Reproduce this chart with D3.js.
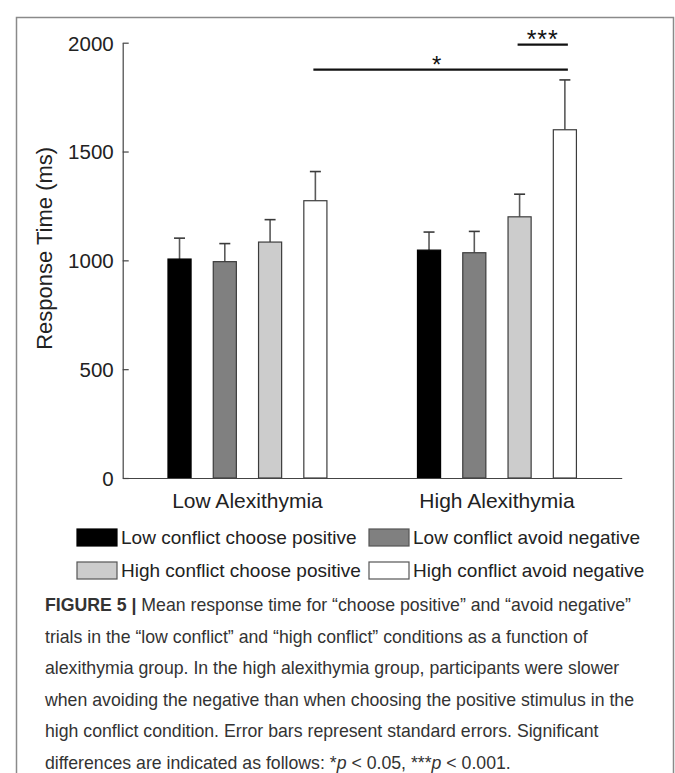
<!DOCTYPE html>
<html>
<head>
<meta charset="utf-8">
<script src="https://cdn.jsdelivr.net/npm/d3@7"></script>
<style>
  body { margin: 0; background: #fff; }
  svg { display: block; }
</style>
</head>
<body>
<div id="chart"></div>
<script>
// data
var groups = ["Low Alexithymia", "High Alexithymia"];
var series = ["Low conflict choose positive", "Low conflict avoid negative",
              "High conflict choose positive", "High conflict avoid negative"];
var lowMeans = [1006, 994, 1084, 1274];
var lowSE = [96, 83, 103, 134];
var highMeans = [1047, 1035, 1200, 1600];
var highSE = [83, 98, 104, 229];
var yTicks = [0, 500, 1000, 1500, 2000];
var sigLabels = ["*", "***"];
var sigLevels = [1876, 1991];

var colors = ["#000000", "#808080", "#cccccc", "#ffffff"];

var width = 675, height = 773;
var svg = d3.select("#chart").append("svg")
    .attr("width", width)
    .attr("height", height);

// frame around the figure (open at the bottom)
svg.append("path")
    .attr("d", "M16.5,773 V17.5 H673.5 V773")
    .attr("fill", "none")
    .attr("stroke", "#8a8a8a")
    .attr("stroke-width", 1.5);

var plotLeft = 122.7, plotRight = 621.7, plotTop = 42.7, plotBottom = 478;

var yScale = d3.scaleLinear().domain([0, 2000]).range([plotBottom, plotTop]);
var x0 = d3.scaleBand().domain(groups).range([plotLeft, plotRight]).padding(0);
var x1 = d3.scaleBand().domain(series).range([0, x0.bandwidth()])
    .paddingInner(0.49).paddingOuter(1.0);

var rows = [];
groups.forEach(function (g, gi) {
    var m = gi == 0 ? lowMeans : highMeans;
    var s = gi == 0 ? lowSE : highSE;
    series.forEach(function (sr, si) {
        rows.push({ group: g, series: sr, si: si, mean: m[si], se: s[si] });
    });
});

var chart = svg.append("g");

// error bars (drawn first, bars cover the lower part)
var err = chart.selectAll(".err").data(rows).enter().append("g");
err.append("line")
    .attr("x1", d => x0(d.group) + x1(d.series) + x1.bandwidth() / 2)
    .attr("x2", d => x0(d.group) + x1(d.series) + x1.bandwidth() / 2)
    .attr("y1", d => yScale(d.mean))
    .attr("y2", d => yScale(d.mean + d.se))
    .attr("stroke", "#5a5a5a")
    .attr("stroke-width", 1.6);
err.append("line")
    .attr("x1", d => x0(d.group) + x1(d.series) + x1.bandwidth() / 2 - 5.5)
    .attr("x2", d => x0(d.group) + x1(d.series) + x1.bandwidth() / 2 + 5.5)
    .attr("y1", d => yScale(d.mean + d.se))
    .attr("y2", d => yScale(d.mean + d.se))
    .attr("stroke", "#3a3a3a")
    .attr("stroke-width", 1.6);

chart.selectAll(".bar").data(rows).enter().append("rect")
    .attr("x", d => x0(d.group) + x1(d.series))
    .attr("y", d => yScale(d.mean))
    .attr("width", x1.bandwidth())
    .attr("height", d => plotBottom - yScale(d.mean))
    .attr("fill", d => colors[d.si])
    .attr("stroke", d => d.si == 0 ? "#000" : "#3c3c3c")
    .attr("stroke-width", 1.2);

// y axis, ticks pointing inward like matlab
var yAxis = chart.append("g")
    .attr("transform", "translate(" + plotLeft + ",0)")
    .call(d3.axisRight(yScale).tickValues(yTicks).tickSize(6).tickSizeOuter(0).tickFormat(d3.format("d")));
yAxis.select(".domain").attr("stroke", "#444").attr("stroke-width", 1.2);
yAxis.selectAll(".tick line").attr("stroke", "#444").attr("stroke-width", 1.2);
yAxis.selectAll(".tick text")
    .attr("x", -9)
    .attr("text-anchor", "end")
    .attr("dy", "0.36em")
    .attr("font-family", "Liberation Sans, Arial, sans-serif")
    .attr("font-size", "20.5px")
    .attr("fill", "#222");

// x axis line and group labels
var xAxis = chart.append("g")
    .attr("transform", "translate(0," + plotBottom + ")")
    .call(d3.axisBottom(x0).tickSize(0).tickSizeOuter(0));
xAxis.select(".domain").attr("stroke", "#444").attr("stroke-width", 1.2);
xAxis.selectAll(".tick text")
    .attr("y", 30)
    .attr("dy", 0)
    .attr("font-family", "Liberation Sans, Arial, sans-serif")
    .attr("font-size", "21px")
    .attr("fill", "#222");

chart.append("text")
    .attr("transform", "translate(52," + (plotTop + plotBottom) / 2 + ") rotate(-90)")
    .attr("dy", 0)
    .attr("dx", 12)
    .attr("text-anchor", "middle")
    .attr("font-family", "Liberation Sans, Arial, sans-serif")
    .attr("font-size", "22px")
    .attr("fill", "#222")
    .text("Response Time (ms)");

// significance brackets
var sig = [
    { from: [0, 3], to: [1, 3], level: sigLevels[0], label: sigLabels[0], size: 24 },
    { from: [1, 2], to: [1, 3], level: sigLevels[1], label: sigLabels[1], size: 25 }
];
function barCenter(gi, si) {
    return x0(groups[gi]) + x1(series[si]) + x1.bandwidth() / 2;
}
sig.forEach(function (s) {
    var xa = barCenter(s.from[0], s.from[1]) - 2;
    var xb = barCenter(s.to[0], s.to[1]) + 3;
    var y = yScale(s.level);
    chart.append("line")
        .attr("x1", xa).attr("x2", xb)
        .attr("y1", y).attr("y2", y)
        .attr("stroke", "#111")
        .attr("stroke-width", 2.2);
    chart.append("text")
        .attr("x", (xa + xb) / 2 - (s.label.length == 1 ? 4 : 0))
        .attr("y", y + 3)
        .attr("text-anchor", "middle")
        .attr("font-family", "Liberation Sans, Arial, sans-serif")
        .attr("font-size", s.size + "px")
        .attr("letter-spacing", s.label.length > 1 ? "1px" : "0px")
        .attr("fill", "#111")
        .text(s.label);
});

// legend
var legendCols = [77, 369];
var legendRows = [529, 562];
var legend = svg.append("g");
series.forEach(function (sr, i) {
    var lx = legendCols[i % 2], ly = legendRows[Math.floor(i / 2)];
    legend.append("rect")
        .attr("x", lx).attr("y", ly)
        .attr("width", 40).attr("height", 17)
        .attr("fill", colors[i])
        .attr("stroke", i == 0 ? "#000" : "#555")
        .attr("stroke-width", 1.2);
    legend.append("text")
        .attr("x", lx + 44)
        .attr("y", ly + 15)
        .attr("font-family", "Liberation Sans, Arial, sans-serif")
        .attr("font-size", "19px")
        .attr("fill", "#222")
        .text(sr);
});

// caption
var capLines = [
    [{ t: "FIGURE 5 | ", b: true }, { t: "Mean response time for \u201cchoose positive\u201d and \u201cavoid negative\u201d" }],
    [{ t: "trials in the \u201clow conflict\u201d and \u201chigh conflict\u201d conditions as a function of" }],
    [{ t: "alexithymia group. In the high alexithymia group, participants were slower" }],
    [{ t: "when avoiding the negative than when choosing the positive stimulus in the" }],
    [{ t: "high conflict condition. Error bars represent standard errors. Significant" }],
    [{ t: "differences are indicated as follows: *" }, { t: "p", i: true }, { t: " < 0.05, ***" }, { t: "p", i: true }, { t: " < 0.001." }]
];
var cap = svg.append("g");
capLines.forEach(function (line, li) {
    var txt = cap.append("text")
        .attr("x", 45)
        .attr("y", 611 + li * 31.5)
        .attr("font-family", "Liberation Sans, Arial, sans-serif")
        .attr("font-size", "17.7px")
        .attr("fill", "#333");
    line.forEach(function (p) {
        txt.append("tspan")
            .attr("font-weight", p.b ? "bold" : null)
            .attr("font-style", p.i ? "italic" : null)
            .text(p.t);
    });
});
</script>
</body>
</html>
